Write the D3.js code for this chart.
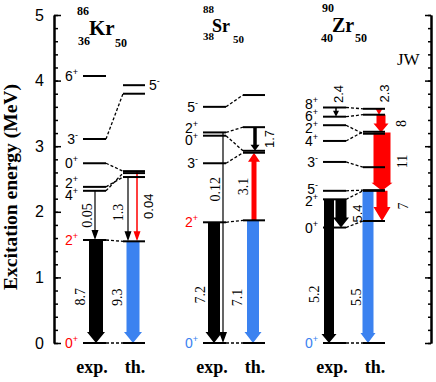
<!DOCTYPE html>
<html>
<head>
<meta charset="utf-8">
<script src="https://cdn.jsdelivr.net/npm/d3@7"></script>
<style>
  body { margin: 0; background: #fff; }
</style>
</head>
<body>
<svg id="chart" width="436" height="382"></svg>
<script>
// ---------- data ----------
const yMajorTicks = [0, 1, 2, 3, 4, 5];
const yMinorTicks = d3.range(0, 5.01, 0.2);
const symbols = ["Kr", "Sr", "Zr"];
const massNumbers = ["86", "88", "90"];
const protonNumbers = ["36", "38", "40"];
const neutronNumbers = ["50", "50", "50"];
const sideLabels = ["exp.", "th."];

// levels: [spin, parity, energy in MeV]
const krExp = [["0", "+", 0], ["2", "+", 1.57], ["4", "+", 2.32], ["2", "+", 2.38], ["0", "+", 2.74], ["3", "-", 3.11], ["6", "+", 4.07]];
const krTh = [["0", "+", 0], ["2", "+", 1.55], ["2", "+", 2.53], ["4", "+", 2.59], ["0", "+", 2.62], ["3", "-", 3.80], ["5", "-", 3.93]];
const krLinks = [[0, 0], [1, 1], [2, 3], [3, 2], [4, 4], [5, 5]];
// transitions: [side, from E, to E, B(E2) label]
const krTrans = [["exp", 2.32, 1.57, "0.05"], ["exp", 1.57, 0, "8.7"], ["th", 2.53, 1.55, "1.3"], ["th", 2.62, 1.55, "0.04"], ["th", 1.55, 0, "9.3"]];

const srExp = [["0", "+", 0], ["2", "+", 1.84], ["3", "-", 2.74], ["0", "+", 3.16], ["2", "+", 3.21], ["5", "-", 3.60]];
const srTh = [["0", "+", 0], ["2", "+", 1.87], ["3", "-", 2.90], ["0", "+", 2.93], ["2", "+", 3.29], ["5", "-", 3.78]];
const srLinks = [[0, 0], [1, 1], [2, 2], [3, 3], [4, 4], [5, 5]];
const srTrans = [["exp", 1.84, 0, "7.2"], ["exp", 3.21, 0, "0.12"], ["th", 1.87, 0, "7.1"], ["th", 1.87, 2.90, "3.1"], ["th", 3.29, 2.93, "1.7"]];

const zrExp = [["0", "+", 0], ["0", "+", 1.76], ["2", "+", 2.19], ["5", "-", 2.32], ["3", "-", 2.76], ["4", "+", 3.08], ["2", "+", 3.32], ["6", "+", 3.45], ["8", "+", 3.59]];
const zrTh = [["0", "+", 0], ["0", "+", 1.86], ["2", "+", 2.32], ["5", "-", 2.33], ["3", "-", 2.68], ["2", "+", 3.19], ["4", "+", 3.22], ["6", "+", 3.48], ["8", "+", 3.57]];
const zrLinks = [[0, 0], [1, 1], [2, 2], [3, 3], [4, 4], [5, 6], [6, 5], [7, 7], [8, 8]];
const zrTrans = [["exp", 2.19, 0, "5.2"], ["exp", 2.19, 1.76, "5.4"], ["exp", 3.59, 3.45, "2.4"],
  ["th", 2.32, 0, "5.5"], ["th", 3.57, 3.48, "2.3"], ["th", 3.48, 3.21, "8"], ["th", 3.21, 2.32, "11"], ["th", 2.32, 1.86, "7"]];

// ---------- styles / layout ----------
const RED = "#ff0000";
const BLUE = "#3b82f0";
const sans = "'Liberation Sans', Arial, Helvetica, sans-serif";
const serif = "'Liberation Serif', 'Times New Roman', Times, serif";

// per transition: [x offset, shaft w, head w, head len, colour, label dx, label position t, font]
const krTransStyle = [[12, 1.2, 7, 10, "#000", -8, 0.5, serif], [13, 14, 18, 11, "#000", -16, 0.55, serif],
  [5, 1.2, 7, 10, "#000", -10, 0.55, serif], [14, 1.5, 7, 10, RED, 11, 0.5, sans], [10, 13, 18, 11, BLUE, -16, 0.55, serif]];
const srTransStyle = [[11, 12, 17, 11, "#000", -14, 0.6, serif], [20, 1.2, 8, 11, "#000", -8, 0.27, serif],
  [10, 12, 17, 11, BLUE, -16, 0.63, serif], [11, 5, 12, 9, RED, -11, 0.5, serif], [12, 3.5, 9, 6, "#000", 14, 0.5, sans]];
const zrTransStyle = [[6, 10, 15, 9, "#000", -15, 0.66, serif], [18, 11, 16, 10, "#000", 16, 0.5, sans],
  [13, 1.5, 6, 6, "#000", 2, -1.47, sans], [5, 11, 15, 10, BLUE, -12, 0.7, serif],
  [16, 2, 7, 6, RED, 5, -2.6, sans], [18, 9, 15, 9, RED, 20, 0.5, serif],
  [19, 17, 21, 8, RED, 20, 0.5, serif], [19, 11, 17, 14, RED, 21, 0.5, serif]];

const krSpinColor = { 0: RED, 1: RED };
const srSpinColor = { 0: BLUE, 1: RED };
const zrSpinColor = { 0: BLUE };

const titleLayout = [
  { sx: 89, sy: 35, ss: 21, mx: 77, my: 15, zx: 78, zy: 45, nx: 115, ny: 47, ns: 12 },
  { sx: 212, sy: 32, ss: 18, mx: 203, my: 13, zx: 203, zy: 40, nx: 233, ny: 43, ns: 11 },
  { sx: 332, sy: 32, ss: 20, mx: 322, my: 12, zx: 321, zy: 42, nx: 355, ny: 42, ns: 12 }
];

const nuclei = [
  { exp: krExp, th: krTh, links: krLinks, trans: krTrans, style: krTransStyle, spinColor: krSpinColor, thLabel: [6] },
  { exp: srExp, th: srTh, links: srLinks, trans: srTrans, style: srTransStyle, spinColor: srSpinColor, thLabel: [] },
  { exp: zrExp, th: zrTh, links: zrLinks, trans: zrTrans, style: zrTransStyle, spinColor: zrSpinColor, thLabel: [] }
];

const levelW = 23;
const colStart = i => 83 + 120 * i;

// ---------- chart ----------
const svg = d3.select("#chart");
const y = d3.scaleLinear().domain([0, 5]).range([343, 15]);

// axes
const leftX = 54, rightX = 431;
const axes = [
  [d3.axisLeft(y).tickValues(yMinorTicks).tickSizeInner(-4).tickSizeOuter(0).tickFormat(""), leftX],
  [d3.axisLeft(y).tickValues(yMajorTicks).tickSizeInner(-7).tickSizeOuter(0).tickPadding(10).tickFormat(d3.format("d")), leftX],
  [d3.axisRight(y).tickValues(yMinorTicks).tickSizeInner(-3).tickSizeOuter(0).tickFormat(""), rightX],
  [d3.axisRight(y).tickValues(yMajorTicks).tickSizeInner(-6).tickSizeOuter(0).tickFormat(""), rightX]
];
axes.forEach(([ax, x]) => {
  const g = svg.append("g").attr("transform", `translate(${x},0)`).call(ax);
  g.select(".domain").attr("stroke-width", 2);
  g.selectAll(".tick line").attr("stroke-width", 1.5);
  g.selectAll("text").attr("font-family", sans).attr("font-size", 16).attr("fill", "#000");
});

svg.append("text")
  .attr("transform", `translate(17,187) rotate(-90)`)
  .attr("text-anchor", "middle")
  .attr("font-family", serif)
  .attr("font-weight", "bold")
  .attr("font-size", 19.5)
  .text("Excitation energy (MeV)");

svg.append("text")
  .attr("x", 397).attr("y", 65)
  .attr("font-family", serif)
  .attr("font-size", 17)
  .text("JW");

function arrowPath(x, y1, y2, w, hw, hl) {
  const dir = y2 > y1 ? 1 : -1;
  const yb = y2 - dir * hl;
  return `M${x - w / 2},${y1}L${x + w / 2},${y1}L${x + w / 2},${yb}L${x + hw / 2},${yb}` +
    `L${x},${y2}L${x - hw / 2},${yb}L${x - w / 2},${yb}Z`;
}

// push apart spin labels that would overlap
function spread(ys, gap) {
  const items = ys.map((v, i) => ({ i, v })).sort((a, b) => a.v - b.v);
  let groups = items.map(d => ({ members: [d], c: d.v }));
  let changed = true;
  while (changed) {
    changed = false;
    for (let k = 0; k < groups.length - 1; k++) {
      const a = groups[k], b = groups[k + 1];
      const aBottom = a.c + (a.members.length - 1) * gap / 2;
      const bTop = b.c - (b.members.length - 1) * gap / 2;
      if (bTop - aBottom < gap) {
        const members = a.members.concat(b.members);
        const c = d3.mean(members, d => d.v);
        groups.splice(k, 2, { members, c });
        changed = true;
        break;
      }
    }
  }
  const out = [];
  groups.forEach(g => {
    const n = g.members.length;
    g.members.forEach((m, j) => { out[m.i] = g.c + (j - (n - 1) / 2) * gap; });
  });
  return out;
}

nuclei.forEach((nuc, i) => {
  const ex = colStart(i), tx = ex + 40;
  const g = svg.append("g");

  // transitions
  nuc.trans.forEach((t, k) => {
    const [side, from, to, label] = t;
    const [dx, w, hw, hl, color, ldx, lt, font] = nuc.style[k];
    const x = (side === "exp" ? ex : tx) + dx;
    const y1 = y(from), y2 = y(to);
    g.append("path")
      .attr("d", arrowPath(x, y1, y2, w, hw, hl))
      .attr("fill", color);
    const ly = y1 + lt * (y2 - y1);
    g.append("text")
      .attr("transform", `translate(${x + ldx},${ly}) rotate(-90)`)
      .attr("text-anchor", "middle")
      .attr("dominant-baseline", "central")
      .attr("font-family", font)
      .attr("font-size", font === serif ? 14 : 13)
      .text(label);
  });

  // levels
  g.selectAll("line.exp").data(nuc.exp).join("line")
    .attr("class", "exp")
    .attr("x1", ex).attr("x2", ex + levelW)
    .attr("y1", d => y(d[2])).attr("y2", d => y(d[2]))
    .attr("stroke", "#000").attr("stroke-width", 2);
  g.selectAll("line.th").data(nuc.th).join("line")
    .attr("class", "th")
    .attr("x1", tx).attr("x2", tx + levelW - 1)
    .attr("y1", d => y(d[2])).attr("y2", d => y(d[2]))
    .attr("stroke", "#000").attr("stroke-width", 2);
  g.selectAll("line.link").data(nuc.links).join("line")
    .attr("class", "link")
    .attr("x1", ex + levelW).attr("x2", tx)
    .attr("y1", d => y(nuc.exp[d[0]][2])).attr("y2", d => y(nuc.th[d[1]][2]))
    .attr("stroke", "#000").attr("stroke-width", 1.3)
    .attr("stroke-dasharray", "3,2");

  // spin labels
  const ly = spread(nuc.exp.map(d => y(d[2])), 12);
  const spin = g.selectAll("text.spin").data(nuc.exp).join("text")
    .attr("class", "spin")
    .attr("x", ex - 5)
    .attr("y", (d, k) => ly[k] + 5)
    .attr("text-anchor", "end")
    .attr("font-family", sans)
    .attr("fill", (d, k) => nuc.spinColor[k] || "#000");
  spin.append("tspan").attr("font-size", 14).text(d => d[0]);
  spin.append("tspan").attr("font-size", 9).attr("dy", -6).text(d => d[1]);

  nuc.thLabel.forEach(k => {
    const d = nuc.th[k];
    const t = g.append("text")
      .attr("x", tx + levelW + 3).attr("y", y(d[2]) + 5)
      .attr("font-family", sans);
    t.append("tspan").attr("font-size", 14).text(d[0]);
    t.append("tspan").attr("font-size", 9).attr("dy", -6).text(d[1]);
  });

  // nucleus title
  const L = titleLayout[i];
  const bold = sel => sel.attr("font-family", serif).attr("font-weight", "bold");
  g.append("text").call(bold).attr("x", L.sx).attr("y", L.sy).attr("font-size", L.ss).text(symbols[i]);
  g.append("text").call(bold).attr("x", L.mx).attr("y", L.my).attr("font-size", L.ns).text(massNumbers[i]);
  g.append("text").call(bold).attr("x", L.zx).attr("y", L.zy).attr("font-size", L.ns).text(protonNumbers[i]);
  g.append("text").call(bold).attr("x", L.nx).attr("y", L.ny).attr("font-size", L.ns).text(neutronNumbers[i]);

  // exp. / th.
  [ex + 9, tx + 12].forEach((x, k) => {
    g.append("text").call(bold)
      .attr("x", x).attr("y", 373)
      .attr("text-anchor", "middle")
      .attr("font-size", 18)
      .text(sideLabels[k]);
  });
});
</script>
</body>
</html>
